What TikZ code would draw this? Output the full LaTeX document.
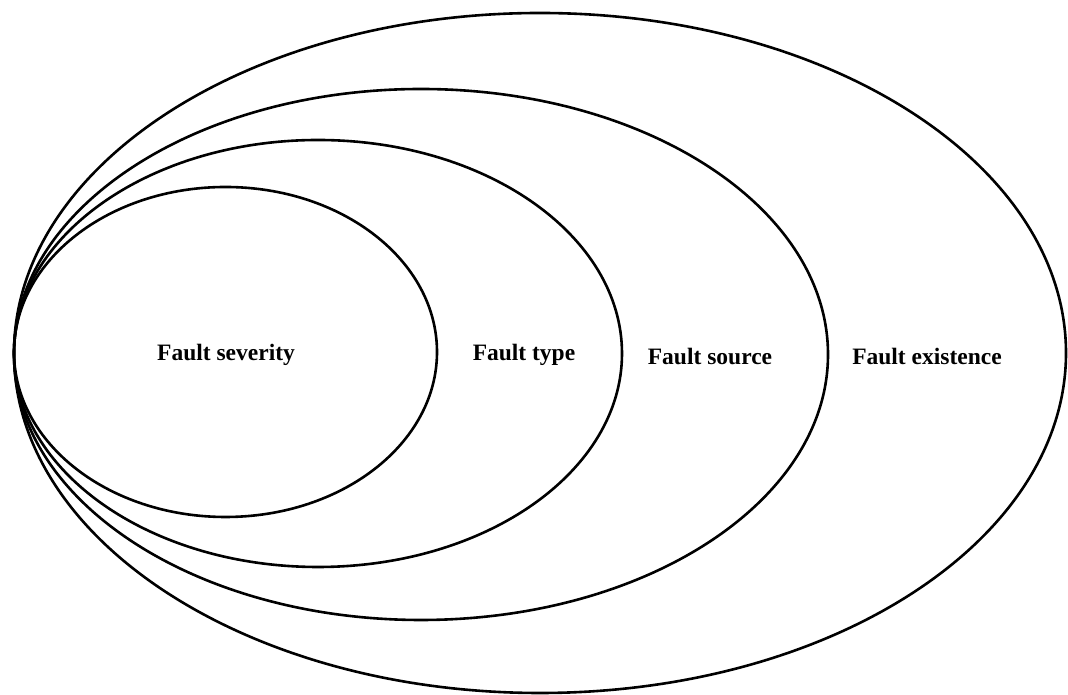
\documentclass[tikz,border=0pt]{standalone}
\usepackage{fontspec}
\setmainfont{Liberation Serif}
\begin{document}
\begin{tikzpicture}[x=1pt,y=1pt,
  ring/.style={draw=black,line width=2.6pt},
  lbl/.style={font=\fontsize{23.5}{28}\selectfont\bfseries,inner sep=0pt,anchor=center}]
  \useasboundingbox (0,0) rectangle (1068,695);
  % nested ellipses sharing the left tangent point
  \draw[ring] (540,342) ellipse [x radius=526, y radius=340];
  \draw[ring] (421,340.5) ellipse [x radius=407, y radius=265.5];
  \draw[ring] (318,341.5) ellipse [x radius=304, y radius=213.5];
  \draw[ring] (225.5,343) ellipse [x radius=211.5, y radius=165];
  % labels
  \node[lbl] (sev) at (226,340) {Fault severity};
  \node[lbl] (typ) at (524,340) {Fault type};
  \node[lbl] (src) at (710,339) {Fault source};
  \node[lbl] (ext) at (927,339) {Fault existence};
\end{tikzpicture}
\end{document}
